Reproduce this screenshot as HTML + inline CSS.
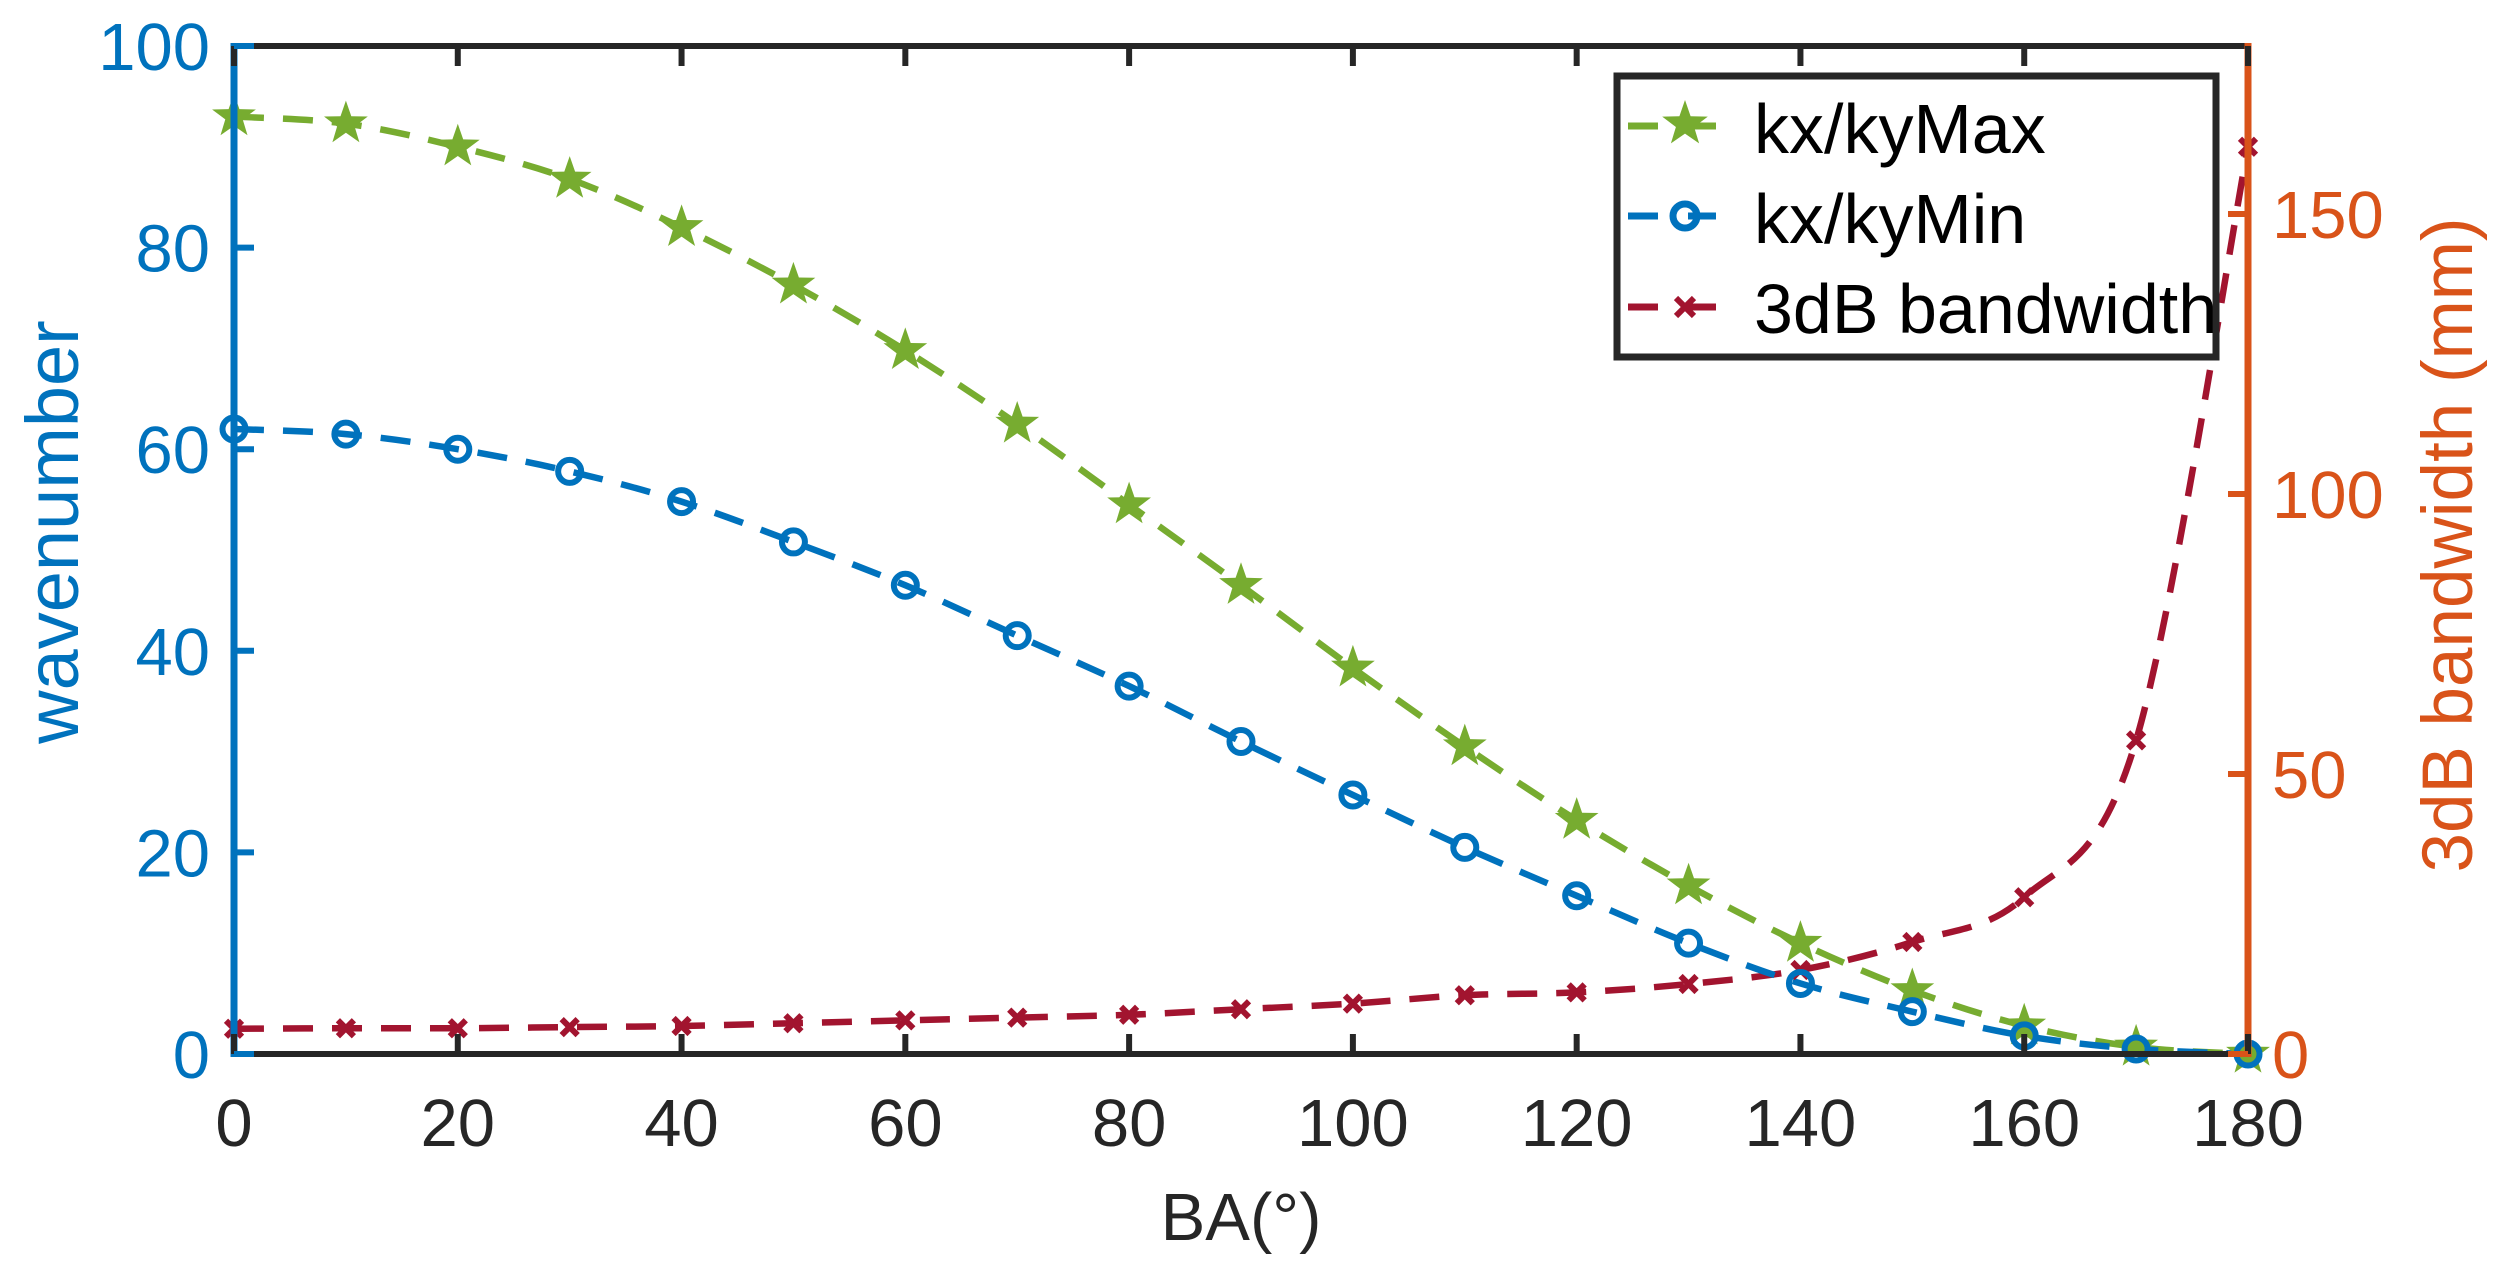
<!DOCTYPE html>
<html><head><meta charset="utf-8"><style>
html,body{margin:0;padding:0;background:#fff;}
svg{display:block;font-family:"Liberation Sans",Arial,sans-serif;}
</style></head><body>
<svg id="s" width="2500" height="1264" viewBox="0 0 2500 1264" xmlns="http://www.w3.org/2000/svg">
<rect width="2500" height="1264" fill="#fff"/>
<g id="g"></g>
</svg>
<script>
const L=234,R=2248,T=46,B=1054;
const X=v=>L+(R-L)*v/180, YL=v=>B-(B-T)*v/100, YR=v=>B-(B-T)*v/180;
const mx=[93,92.3,90,86.8,82,76.3,69.8,62.5,54.5,46.5,38.3,30.5,23.2,16.7,11,6.3,2.8,0.7,0];
const mn=[62,61.5,60,57.8,54.8,50.8,46.5,41.5,36.5,31,25.7,20.5,15.7,11,7,4.2,1.8,0.5,0];
const bw=[4.5,4.6,4.6,4.8,5,5.5,6,6.5,7,8,9,10.5,11,12.5,15,20,28,56,162];
const G='#77AC30',BL='#0072BD',RD='#A2142F',OR='#D95319',K='#262626';
let h='';
function path(arr,Y){
  const p=arr.map((v,i)=>[X(i*10),Y(v)]);
  let d='M'+p[0][0]+','+p[0][1];
  for(let i=0;i<p.length-1;i++){
    const p0=p[Math.max(i-1,0)],p1=p[i],p2=p[i+1],p3=p[Math.min(i+2,p.length-1)];
    const c1=[p1[0]+(p2[0]-p0[0])/6,p1[1]+(p2[1]-p0[1])/6];
    const c2=[p2[0]-(p3[0]-p1[0])/6,p2[1]-(p3[1]-p1[1])/6];
    d+=` C${c1[0]},${c1[1]} ${c2[0]},${c2[1]} ${p2[0]},${p2[1]}`;
  }
  return d;
}
function star(cx,cy,r){let pts=[];for(let i=0;i<10;i++){const a=-Math.PI/2+i*Math.PI/5;const rr=i%2?r*0.4:r;pts.push((cx+rr*Math.cos(a)).toFixed(1)+','+(cy+rr*Math.sin(a)).toFixed(1));}return `<polygon points="${pts.join(' ')}" fill="${G}"/>`;}
function cross(cx,cy,c,s){s=s||8;return `<path d="M${cx-s},${cy-s}L${cx+s},${cy+s}M${cx-s},${cy+s}L${cx+s},${cy-s}" stroke="${c}" stroke-width="6"/>`;}
const LW=6.5,DA="30 19";
h+=`<path d="${path(bw,YR)}" fill="none" stroke="${RD}" stroke-width="${LW}" stroke-dasharray="${DA}"/>`;
h+=`<path d="${path(mx,YL)}" fill="none" stroke="${G}" stroke-width="${LW}" stroke-dasharray="${DA}"/>`;
h+=`<path d="${path(mn,YL)}" fill="none" stroke="${BL}" stroke-width="${LW}" stroke-dasharray="${DA}"/>`;
bw.forEach((v,i)=>h+=cross(X(i*10),YR(v),RD));
mx.forEach((v,i)=>h+=star(X(i*10),YL(v),23));
mn.forEach((v,i)=>h+=`<circle cx="${X(i*10)}" cy="${YL(v)}" r="11.5" fill="none" stroke="${BL}" stroke-width="6"/>`);
h+=`<line x1="${L}" y1="${T}" x2="${R}" y2="${T}" stroke="${K}" stroke-width="6"/>`;
h+=`<line x1="${L}" y1="${B}" x2="${R}" y2="${B}" stroke="${K}" stroke-width="6"/>`;
h+=`<line x1="${L}" y1="${T-3}" x2="${L}" y2="${B+3}" stroke="${BL}" stroke-width="7"/>`;
h+=`<line x1="${R}" y1="${T-3}" x2="${R}" y2="${B+3}" stroke="${OR}" stroke-width="7"/>`;
for(let v=0;v<=180;v+=20){const x=X(v);
  h+=`<line x1="${x}" y1="${B}" x2="${x}" y2="${B-20}" stroke="${K}" stroke-width="6"/><line x1="${x}" y1="${T}" x2="${x}" y2="${T+20}" stroke="${K}" stroke-width="6"/>`;
  h+=`<text x="${x}" y="${B+92}" font-size="67" text-anchor="middle" fill="${K}">${v}</text>`;}
for(let v=0;v<=100;v+=20){const y=YL(v);
  h+=`<line x1="${L}" y1="${y}" x2="${L+20}" y2="${y}" stroke="${BL}" stroke-width="6"/>`;
  h+=`<text x="210" y="${y+24}" font-size="67" text-anchor="end" fill="${BL}">${v}</text>`;}
for(let v=0;v<=150;v+=50){const y=YR(v);
  h+=`<line x1="${R-20}" y1="${y}" x2="${R}" y2="${y}" stroke="${OR}" stroke-width="6"/>`;
  h+=`<text x="2272" y="${y+24}" font-size="67" text-anchor="start" fill="${OR}">${v}</text>`;}
h+=`<text x="1241" y="1240" font-size="67" text-anchor="middle" fill="${K}">BA(°)</text>`;
h+=`<text transform="translate(78,532) rotate(-90)" font-size="74" text-anchor="middle" fill="${BL}">wavenumber</text>`;
h+=`<text transform="translate(2472,545) rotate(-90)" font-size="71" text-anchor="middle" fill="${OR}">3dB bandwidth (mm)</text>`;
h+=`<rect x="1617" y="76" width="599" height="281" fill="#fff" stroke="${K}" stroke-width="7"/>`;
const rows=[[126,153,'kx/kyMax',G],[216,243,'kx/kyMin',BL],[307,333,'3dB bandwidth',RD]];
rows.forEach((r,i)=>{const y=r[0];
  h+=`<line x1="1628" y1="${y}" x2="1716" y2="${y}" stroke="${r[3]}" stroke-width="7" stroke-dasharray="30 30"/>`;
  if(i==0)h+=star(1685,y-2,24);else if(i==1)h+=`<circle cx="1685" cy="${y}" r="12" fill="none" stroke="${BL}" stroke-width="7"/>`;else h+=cross(1685,y,RD,9);
  h+=`<text x="1754" y="${r[1]}" font-size="70" fill="#000">${r[2]}</text>`;});
document.getElementById('g').innerHTML=h;
</script>
</body></html>
